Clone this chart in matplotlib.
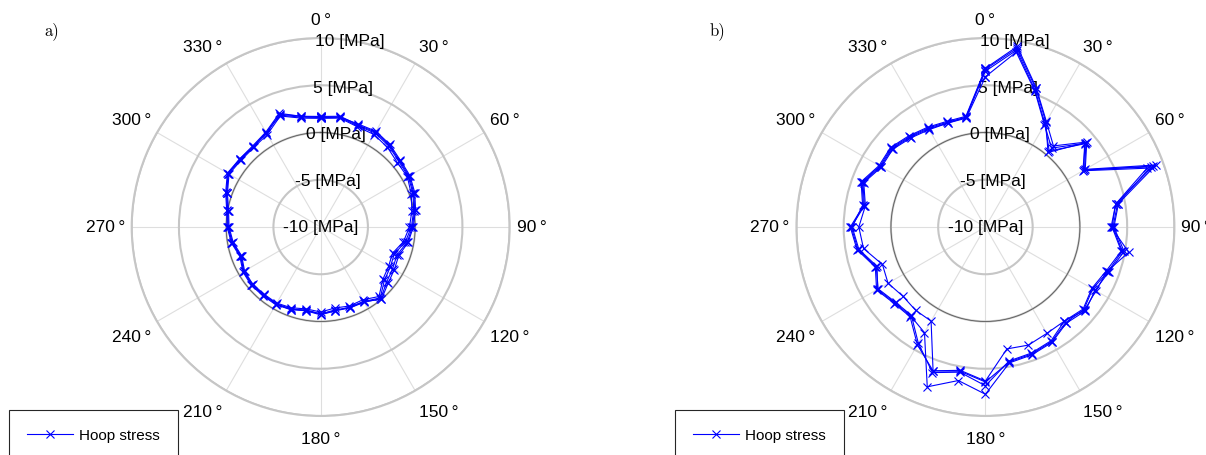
import numpy as np
import matplotlib.pyplot as plt

# Measurement angles around the section (deg), one value every 10 deg
ANGLES_DEG = np.arange(0, 360, 10)

# Panel a) - four repeated runs, hoop stress in MPa
RUNS_A = [
    [1.6, 1.8, 1.4, 1.5, 1.2, 0.8, 0.7, 0.4, 0.0, -0.4, -0.9, -1.7, -1.5, -1.2, -0.2, -0.9, -0.9, -1.1,
     -0.8, -1.1, -0.7, -0.6, -0.6, -0.5, -0.6, -1.0, -0.5, -0.2, 0.0, 0.6, 1.3, 1.1, 1.1, 1.5, 2.6, 1.8],
    [1.7, 1.9, 1.5, 1.6, 1.3, 0.9, 0.8, 0.5, 0.1, -0.3, -0.7, -1.4, -1.2, -0.9, -0.1, -0.8, -0.9, -1.0,
     -0.7, -1.0, -0.7, -0.5, -0.5, -0.4, -0.5, -0.9, -0.4, -0.1, 0.1, 0.7, 1.4, 1.2, 1.2, 1.6, 2.8, 1.9],
    [1.5, 1.7, 1.3, 1.3, 1.0, 0.6, 0.6, 0.2, -0.2, -0.6, -1.1, -1.9, -1.7, -1.4, -0.4, -1.1, -1.1, -1.3,
     -1.0, -1.2, -0.9, -0.7, -0.7, -0.6, -0.7, -1.1, -0.6, -0.3, -0.1, 0.5, 1.2, 1.0, 1.0, 1.3, 2.5, 1.7],
    [1.6, 1.8, 1.6, 1.7, 1.4, 1.0, 0.9, 0.6, 0.2, -0.2, -0.6, -1.2, -1.0, -0.7, 0.0, -0.9, -1.0, -1.0,
     -0.8, -1.0, -0.8, -0.6, -0.6, -0.5, -0.6, -1.0, -0.5, -0.2, 0.0, 0.6, 1.3, 1.2, 1.1, 1.5, 2.7, 1.9],
]

# Panel b) - four repeated runs, hoop stress in MPa
RUNS_B = [
    [6.7, 9.2, 5.6, 2.8, 0.3, 3.9, 2.1, 8.6, 4.2, 3.5, 4.7, 3.8, 3.1, 3.6, 3.2, 4.0, 4.3, 4.5,
     6.4, 5.5, 6.2, 4.4, 2.4, 2.6, 3.3, 2.4, 3.8, 4.3, 3.1, 3.9, 2.9, 3.0, 2.5, 2.1, 1.8, 1.8],
    [6.5, 9.0, 5.4, 2.6, 0.5, 3.7, 2.0, 8.9, 4.0, 3.4, 4.6, 3.6, 3.0, 3.5, 3.0, 3.9, 4.2, 4.4,
     6.8, 5.6, 6.4, 4.2, 2.2, 2.4, 3.1, 2.3, 3.7, 4.2, 3.0, 3.8, 2.8, 2.9, 2.4, 2.0, 1.7, 1.8],
    [6.8, 9.4, 5.7, 2.9, 1.2, 4.0, 2.2, 9.2, 4.3, 3.6, 4.9, 3.9, 3.4, 3.8, 3.3, 4.1, 4.4, 4.6,
     7.7, 6.5, 8.0, 2.9, 2.3, 2.5, 3.2, 2.2, 3.6, 4.1, 3.2, 4.0, 3.0, 3.1, 2.6, 2.2, 1.9, 1.9],
    [5.9, 8.8, 5.3, 2.5, 0.9, 3.8, 1.9, 8.2, 4.0, 3.3, 5.4, 3.7, 3.5, 3.7, 3.0, 3.0, 3.3, 3.1,
     6.3, 5.4, 6.2, 1.5, 1.5, 1.4, 1.9, 1.6, 3.1, 3.4, 2.9, 3.7, 2.7, 2.8, 2.3, 1.9, 1.7, 1.7],
]

R_TICKS = [-10, -5, 0, 5, 10]
THETA_TICKS = np.arange(0, 360, 30)

plt.rcParams["font.family"] = ["Liberation Sans", "DejaVu Sans"]

GRID_RING = "#c6c6c6"
GRID_SPOKE = "#dedede"
LINE_BLUE = "#0000ff"


def angle_labels(ax):
    # labels hang off the outer ring by their inner edge, like MATLAB's polarplot
    for d in THETA_TICKS:
        s, c = np.sin(np.deg2rad(d)), np.cos(np.deg2rad(d))
        ha = "center" if abs(s) < 1e-6 else ("left" if s > 0 else "right")
        va = "center" if abs(c) < 1e-6 else ("bottom" if c > 0 else "top")
        dy = c * (8.0 if c > 0 else 11.0)
        ax.annotate(f"{d}\u2009°", xy=(np.deg2rad(d), 10), xytext=(s * 5.0, dy),
                    textcoords="offset points", ha=ha, va=va, fontsize=12.5,
                    annotation_clip=False)


def draw_panel(fig, rect, runs, tag, legend_x):
    ax = fig.add_axes(rect, projection="polar")
    ax.set_theta_zero_location("N")
    ax.set_theta_direction(-1)
    ax.set_ylim(-10, 10)

    ax.set_thetagrids(THETA_TICKS, [""] * len(THETA_TICKS))
    ax.set_rgrids(R_TICKS, labels=[""] * len(R_TICKS))
    ax.xaxis.grid(True, color=GRID_SPOKE, lw=0.8)
    ax.yaxis.grid(True, color=GRID_RING, lw=1.5)
    ax.spines["polar"].set_color(GRID_RING)
    ax.spines["polar"].set_linewidth(1.5)
    ax.set_axisbelow(True)

    angle_labels(ax)

    # radial labels sit a little clockwise of the 0 deg spoke
    for r in R_TICKS:
        ax.text(np.deg2rad(9), r, f"{r} [MPa]", ha="center", va="center",
                fontsize=12.5, zorder=3)

    # zero-stress reference circle
    ring = np.linspace(0, 2 * np.pi, 361)
    ax.plot(ring, np.zeros_like(ring), color="0.35", lw=0.6, zorder=2)

    theta = np.deg2rad(np.append(ANGLES_DEG, ANGLES_DEG[0]))
    for i, run in enumerate(runs):
        vals = np.append(run, run[0])
        ax.plot(theta, vals, color=LINE_BLUE, lw=0.8, marker="x", ms=5.5, mew=0.8,
                zorder=4, label="Hoop stress" if i == 0 else None)

    leg = ax.legend(loc="upper left", bbox_to_anchor=(legend_x, 1 - 411 / 456),
                    bbox_transform=fig.transFigure, fontsize=11, fancybox=False,
                    framealpha=1, edgecolor="0.15", borderpad=1.2,
                    handlelength=3.0, handletextpad=0.4, borderaxespad=0)
    leg.get_frame().set_linewidth(0.8)

    fig.text(rect[0] - 0.072, 0.932, tag, fontsize=12, family="cmr10",
             ha="left", va="center")
    return ax


fig = plt.figure(figsize=(12.06, 4.56), dpi=100)
draw_panel(fig, [0.1092, 0.0855, 0.3134, 0.829], RUNS_A, "a)", 9 / 1206)
draw_panel(fig, [0.6604, 0.0855, 0.3134, 0.829], RUNS_B, "b)", 675 / 1206)
fig.savefig("out.png", dpi=100)
